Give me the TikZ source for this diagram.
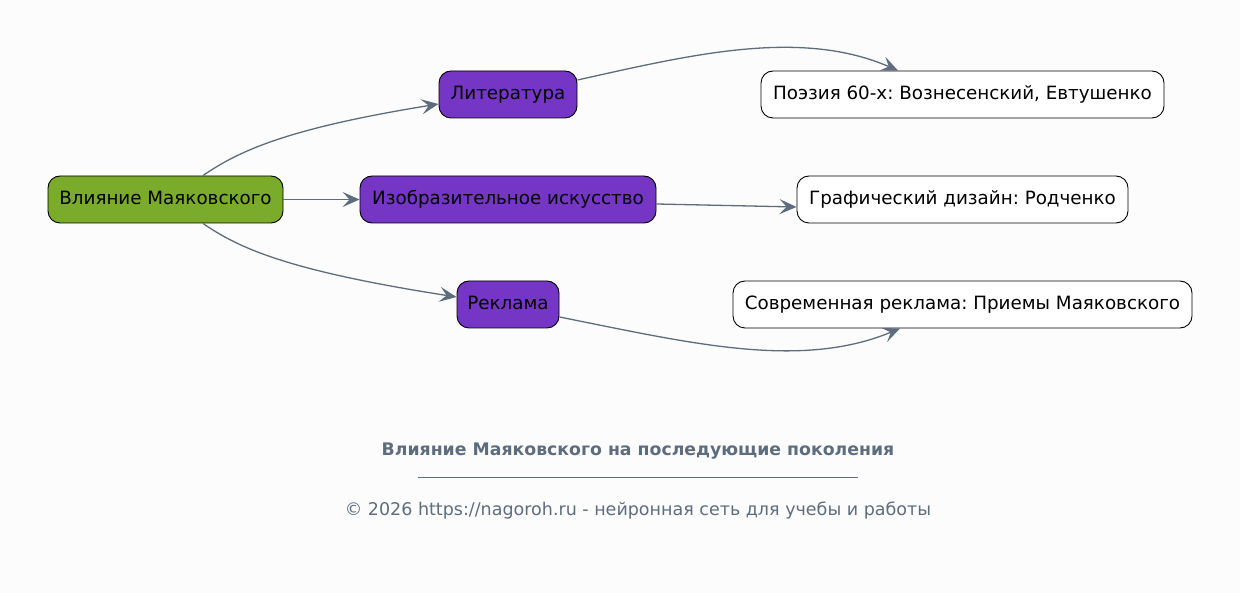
\documentclass[tikz,border=0pt]{standalone}
\usepackage{fontspec}
\setmainfont{DejaVu Sans}
\frenchspacing
\usetikzlibrary{arrows.meta,calc}
\definecolor{bg}{HTML}{FCFCFC}
\definecolor{rootgreen}{HTML}{7AAB2A}
\definecolor{midpurple}{HTML}{7535C5}
\definecolor{edgegrey}{HTML}{5D6D7E}
\tikzset{
  box/.style={draw=black, line width=0.9pt, rounded corners=12pt, minimum height=47pt,
    inner sep=0pt, text height=13.3pt, text depth=3pt,
    font=\fontsize{18.3}{22}\selectfont, text=black},
  rootbox/.style={box, fill=rootgreen},
  midbox/.style={box, fill=midpurple},
  leafbox/.style={box, fill=white},
  conn/.style={draw=edgegrey, line width=1.3pt,
    -{Stealth[length=17pt,width=15pt,inset=7pt]}},
}
\begin{document}
\begin{tikzpicture}[x=1pt,y=-1pt]
\fill[bg] (0,0) rectangle (1240,593);
\useasboundingbox (0,0) rectangle (1240,593);
\node[rootbox, minimum width=235pt] (root) at (165.5,199.5) {Влияние Маяковского};
\node[midbox, minimum width=138pt] (lit) at (508,94.5) {Литература};
\node[midbox, minimum width=296pt] (izo) at (508,199.5) {Изобразительное искусство};
\node[midbox, minimum width=102pt] (rek) at (508,304.5) {Реклама};
\node[leafbox, minimum width=403pt] (poe) at (962.5,94.5) {Поэзия 60-х: Вознесенский, Евтушенко};
\node[leafbox, minimum width=331pt] (gra) at (962.5,199.5) {Графический дизайн: Родченко};
\node[leafbox, minimum width=459pt] (sov) at (962.5,304.5) {Современная реклама: Приемы Маяковского};

\draw[conn] ($(root.north)+(37.5,0)$) .. controls (240,150) and (290,128) .. ($(lit.west)+(0,9.5)$);
\draw[conn] (root.east) -- (izo.west);
\draw[conn] ($(root.south)+(37.5,0)$) .. controls (240,249) and (290,271) .. ($(rek.west)+(0,-7.5)$);
\draw[conn] ($(lit.east)+(0,-14.5)$) .. controls (690,55) and (800,28) .. ($(poe.north)+(-64.5,0)$);
\draw[conn] ($(izo.east)+(0,4.5)$) -- ($(gra.west)+(0,7.5)$);
\draw[conn] ($(rek.east)+(0,12.5)$) .. controls (690,343) and (800,370) .. ($(sov.south)+(-62.5,0)$);

\node[font=\fontsize{17.3}{20}\selectfont\bfseries, text=edgegrey] (title) at (638,451.5) {Влияние Маяковского на последующие поколения};
\coordinate (ruleL) at (418,477);
\coordinate (ruleR) at (858,477);
\draw[edgegrey, line width=0.8pt] (ruleL) -- (ruleR);
\node[font=\fontsize{17.5}{21}\selectfont, text=edgegrey] (copy) at (638,511) {© 2026 https://nagoroh.ru - нейронная сеть для учебы и работы};
\end{tikzpicture}
\end{document}
